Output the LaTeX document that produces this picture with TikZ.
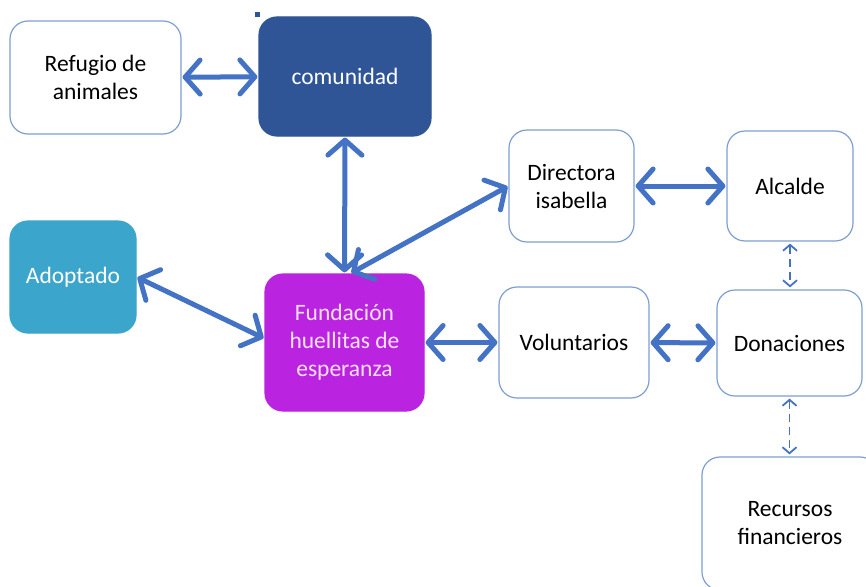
\documentclass[tikz,border=0pt]{standalone}
\usepackage{fontspec}
\setmainfont{Carlito}
\usetikzlibrary{arrows.meta}
\definecolor{arrowblue}{HTML}{4472C4}
\definecolor{boxline}{HTML}{7F9FD2}
\definecolor{comblue}{HTML}{2F5597}
\definecolor{adoptblue}{HTML}{3BA5CC}
\definecolor{fundviolet}{HTML}{BA24E0}
\definecolor{fundtext}{HTML}{FBE2FB}
\tikzset{
  box/.style={draw=boxline, line width=1.2pt, fill=white, rounded corners=18pt,
    align=center, inner sep=0pt, text=black,
    font=\fontsize{23.5}{28}\selectfont},
  filledbox/.style={box, draw=#1, fill=#1},
  bigarrow/.style={draw=arrowblue, line width=5pt, line cap=round,
    {Straight Barb[length=15pt,width=34pt,line cap=round,line join=round]}-{Straight Barb[length=15pt,width=34pt,line cap=round,line join=round]},
    shorten >=1pt, shorten <=1pt},
  dasharrow/.style={draw=arrowblue, line width=1.8pt, dash pattern=on 8pt off 5pt,
    {Straight Barb[length=6pt,width=14pt]}-{Straight Barb[length=6pt,width=14pt]},
    shorten >=2pt, shorten <=2pt}
}
\begin{document}
\begin{tikzpicture}[x=1pt,y=-1pt]
\clip (0,0) rectangle (866,586);
\fill[white] (0,0) rectangle (866,586);
\node[box, minimum width=171pt, minimum height=113pt] (ref) at (95.5,77.5) {Refugio de\\animales};
\node[filledbox=comblue, text=white, minimum width=172pt, minimum height=119pt] (com) at (345,76.5) {comunidad};
\node[fill=comblue, minimum size=5pt, inner sep=0pt] (dot) at (257,15) {};
\node[box, minimum width=125pt, minimum height=112pt] (dir) at (571.5,186) {Directora\\isabella};
\node[box, minimum width=126pt, minimum height=110pt] (alc) at (790,186) {Alcalde};
\node[filledbox=adoptblue, text=white, minimum width=126pt, minimum height=112pt] (ado) at (73,277) {Adoptado};
\node[filledbox=fundviolet, text=fundtext, minimum width=159pt, minimum height=137pt] (fund) at (344.5,342.5) {Fundación\\huellitas de\\esperanza};
\node[box, minimum width=150pt, minimum height=111pt] (vol) at (574,342.5) {Voluntarios};
\node[box, minimum width=145pt, minimum height=106pt] (don) at (789.5,343) {Donaciones};
\node[box, minimum width=176pt, minimum height=133pt] (rec) at (790,523.5) {Recursos\\financieros};

\draw[bigarrow] (ref) -- (com);
\draw[bigarrow] (com.south) -- ([xshift=0pt]fund.north);
\draw[bigarrow] ([xshift=6pt]fund.north) -- (dir.west);
\draw[bigarrow] (ado.east) -- ([yshift=4pt]fund.west);
\draw[bigarrow] (fund) -- (vol);
\draw[bigarrow] (vol) -- (don);
\draw[bigarrow] (dir) -- (alc);
\draw[dasharrow] (alc.south) -- (alc.south |- don.north);
\draw[dasharrow] (don.south) -- (don.south |- rec.north);
\end{tikzpicture}
\end{document}
